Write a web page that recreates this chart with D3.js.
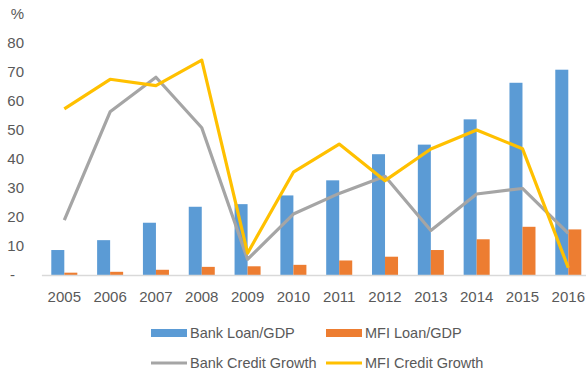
<!DOCTYPE html>
<html>
<head>
<meta charset="utf-8">
<script src="https://cdn.jsdelivr.net/npm/d3@7"></script>
<style>
  html, body { margin: 0; padding: 0; background: #fff; }
  svg { display: block; font-family: "Liberation Sans", Arial, sans-serif; }
</style>
</head>
<body>
<svg id="chart" width="586" height="374"></svg>
<script>
// Years on the category axis
const years = ["2005","2006","2007","2008","2009","2010","2011","2012","2013","2014","2015","2016"];
// Bar series (% of GDP)
const bankLoanGdp = [8.6, 12.0, 18.0, 23.5, 24.4, 27.4, 32.6, 41.6, 44.9, 53.6, 66.2, 70.7];
const mfiLoanGdp  = [0.8, 1.1, 1.8, 2.8, 3.0, 3.5, 5.0, 6.3, 8.6, 12.3, 16.6, 15.7];
// Line series (annual growth, %)
const bankCreditGrowth = [18.9, 56.2, 68.1, 50.7, 5.4, 21.0, 28.1, 34.0, 15.3, 27.9, 29.8, 14.3];
const mfiCreditGrowth  = [57.2, 67.4, 65.2, 74.0, 7.5, 35.4, 45.1, 32.5, 43.4, 49.9, 43.5, 2.5];
// Value axis ticks
const yTicks = [0, 10, 20, 30, 40, 50, 60, 70, 80];

const colors = { bank: "#5B9BD5", mfi: "#ED7D31", bankGrowth: "#A5A5A5", mfiGrowth: "#FFC000" };
const textColor = "#595959";
const fontSize = 15;

const svg = d3.select("#chart");

const x = d3.scaleBand().domain(years).range([41.4, 591.2]).paddingInner(0).paddingOuter(0);
const y = d3.scaleLinear().domain([0, 80]).range([275, 42.7]);

const bw = x.bandwidth();
const barW = bw * 0.284;
const gap = (bw - 2 * barW) / 2;

// Value axis labels (no line, no ticks)
const yAxis = d3.axisLeft(y).tickValues(yTicks).tickSize(0).tickPadding(0)
  .tickFormat(d => d === 0 ? "-" : d);
const gy = svg.append("g").attr("transform", "translate(24,0)").call(yAxis);
gy.select(".domain").remove();
gy.selectAll("text").attr("fill", textColor).attr("font-size", fontSize)
  .attr("font-family", "Liberation Sans, Arial, sans-serif")
  .attr("dx", d => d === 0 ? -9 : 0);

// Unit label
svg.append("text").attr("x", 17.5).attr("y", 19).attr("text-anchor", "middle")
  .attr("fill", textColor).attr("font-size", fontSize).text("%");

// Bars
const bars = svg.append("g");
bars.selectAll("rect.bank").data(years).join("rect")
  .attr("x", d => x(d) + gap)
  .attr("y", (d, i) => y(bankLoanGdp[i]))
  .attr("width", barW)
  .attr("height", (d, i) => y(0) - y(bankLoanGdp[i]))
  .attr("fill", colors.bank);
bars.selectAll("rect.mfi").data(years).join("rect")
  .attr("x", d => x(d) + gap + barW)
  .attr("y", (d, i) => y(mfiLoanGdp[i]))
  .attr("width", barW)
  .attr("height", (d, i) => y(0) - y(mfiLoanGdp[i]))
  .attr("fill", colors.mfi);

// Category axis
const xAxis = d3.axisBottom(x).tickSize(0).tickPadding(16);
const gx = svg.append("g").attr("transform", "translate(0,275)").call(xAxis);
gx.select(".domain").attr("stroke", "#D9D9D9").attr("stroke-width", 1.5);
gx.selectAll("text").attr("fill", textColor).attr("font-size", fontSize)
  .attr("font-family", "Liberation Sans, Arial, sans-serif");

// Lines
const line = d3.line().x((d, i) => x(years[i]) + bw / 2).y(d => y(d));
svg.append("path").datum(bankCreditGrowth).attr("d", line)
  .attr("fill", "none").attr("stroke", colors.bankGrowth).attr("stroke-width", 3.2)
  .attr("stroke-linejoin", "round");
svg.append("path").datum(mfiCreditGrowth).attr("d", line)
  .attr("fill", "none").attr("stroke", colors.mfiGrowth).attr("stroke-width", 3.2)
  .attr("stroke-linejoin", "round");

// Legend
const legend = [
  { name: "Bank Loan/GDP", color: colors.bank, type: "rect", x: 151, y: 333 },
  { name: "MFI Loan/GDP", color: colors.mfi, type: "rect", x: 326, y: 333 },
  { name: "Bank Credit Growth", color: colors.bankGrowth, type: "line", x: 151, y: 363 },
  { name: "MFI Credit Growth", color: colors.mfiGrowth, type: "line", x: 326, y: 363 }
];
const lg = svg.append("g").selectAll("g").data(legend).join("g")
  .attr("transform", d => `translate(${d.x},${d.y})`);
lg.filter(d => d.type === "rect").append("rect")
  .attr("x", 0).attr("y", -4).attr("width", 36).attr("height", 8).attr("fill", d => d.color);
lg.filter(d => d.type === "line").append("line")
  .attr("x1", 0).attr("x2", 36).attr("y1", 0).attr("y2", 0)
  .attr("stroke", d => d.color).attr("stroke-width", 3.2);
lg.append("text").attr("x", 39).attr("y", 0).attr("dy", "0.35em")
  .attr("fill", textColor).attr("font-size", 14.5).text(d => d.name);
</script>
</body>
</html>
